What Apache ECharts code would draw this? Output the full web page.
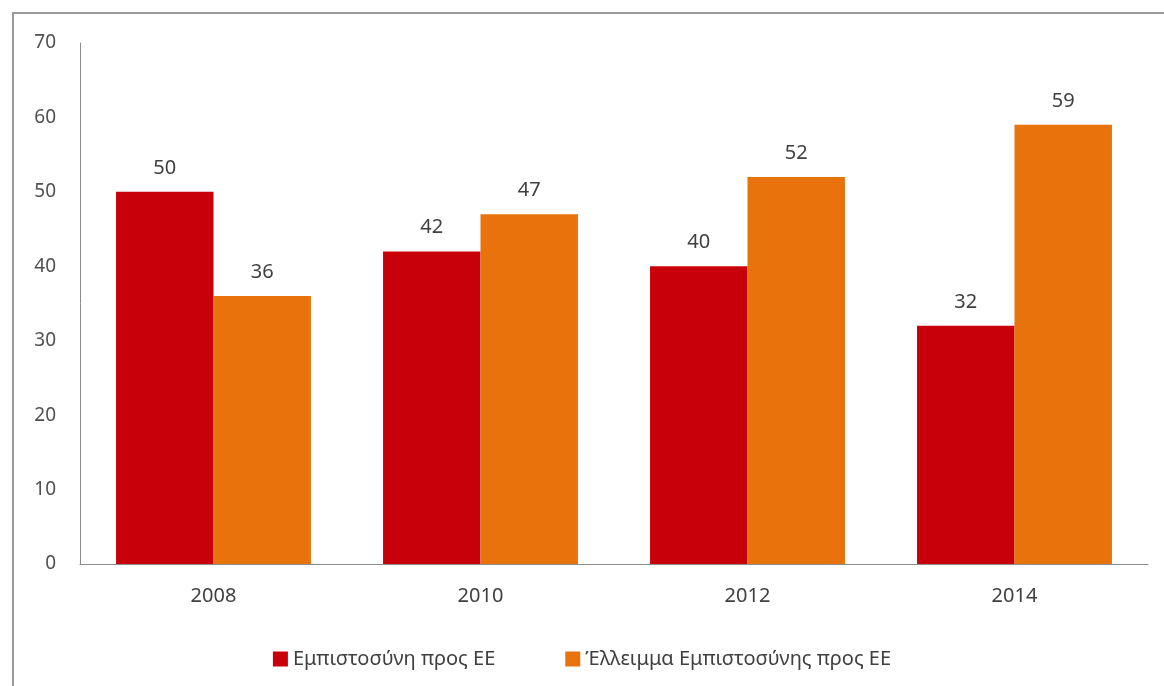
<html>
<head>
    <meta charset="utf-8">
    <title>Chart</title>
    <script src="https://cdn.jsdelivr.net/npm/echarts@6/dist/echarts.min.js"></script>
    <style>
        html, body { margin: 0; padding: 0; width: 1164px; height: 686px; background: #fff; }
        #frame { position: absolute; left: 12px; top: 12px; width: 1160px; height: 680px;
                 border-left: 2px solid #9a9a9a; border-top: 2px solid #9a9a9a; }
        #main { position: absolute; left: 0; top: 0; width: 1164px; height: 686px; }
    </style>
</head>
<body>
    <div id="frame"></div>
    <div id="main"></div>
    <script type="text/javascript">
        // data
        var years = ['2008', '2010', '2012', '2014'];
        var trust = [50, 42, 40, 32];
        var distrust = [36, 47, 52, 59];
        var seriesNames = ['Εμπιστοσύνη προς ΕΕ', 'Έλλειμμα Εμπιστοσύνης προς ΕΕ'];

        var myChart = echarts.init(document.getElementById('main'));
        var font = 'Noto Sans';

        var label = {
            show: true,
            position: 'top',
            distance: 14,
            color: '#404040',
            fontSize: 20,
            fontFamily: font
        };

        var option = {
            animation: false,
            grid: { left: 80, right: 16, top: 43, bottom: 122 },
            legend: {
                bottom: 12,
                left: 'center',
                itemWidth: 15,
                itemHeight: 15,
                itemGap: 70,
                icon: 'rect',
                textStyle: { color: '#404040', fontSize: 20, fontFamily: font },
                data: seriesNames
            },
            xAxis: {
                type: 'category',
                data: years,
                axisLine: { lineStyle: { color: '#8c8c8c' } },
                axisTick: { show: false },
                axisLabel: { color: '#404040', fontSize: 20, fontFamily: font, margin: 22 }
            },
            yAxis: {
                type: 'value',
                min: 0,
                max: 70,
                interval: 10,
                axisLine: { show: true, lineStyle: { color: '#8c8c8c' } },
                axisTick: { show: false },
                splitLine: { show: false },
                axisLabel: { color: '#505050', fontSize: 19, fontFamily: font, margin: 24 }
            },
            series: [
                {
                    name: seriesNames[0],
                    type: 'bar',
                    data: trust,
                    barGap: '0%',
                    barCategoryGap: '27%',
                    itemStyle: { color: '#C8000A' },
                    label: label
                },
                {
                    name: seriesNames[1],
                    type: 'bar',
                    data: distrust,
                    itemStyle: { color: '#E8720C' },
                    label: label
                }
            ]
        };
        myChart.setOption(option);
    </script>
</body>
</html>
